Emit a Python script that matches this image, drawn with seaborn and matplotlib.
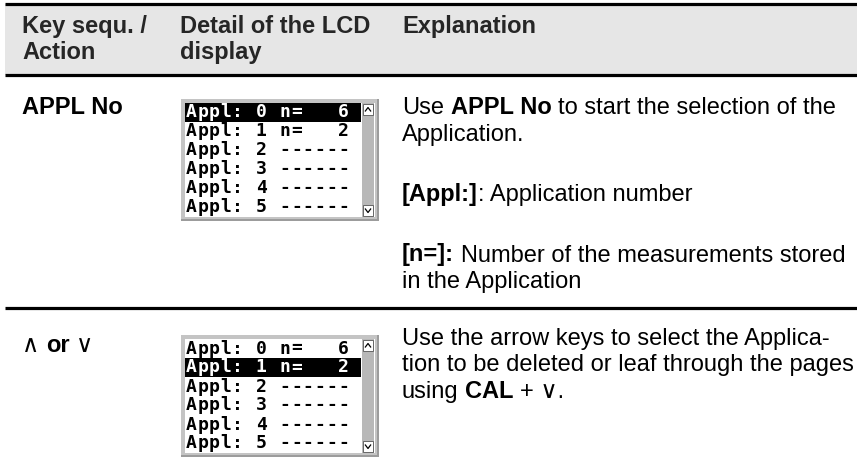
import numpy as np
import matplotlib
matplotlib.use("Agg")
import matplotlib.pyplot as plt
from matplotlib.colors import ListedColormap
from matplotlib.patches import Rectangle
import seaborn as sns

# --- table content ---
HEADER_LABELS = [
    ["Key sequ. /", "Action"],
    ["Detail of the LCD", "display"],
    ["Explanation"],
]

ROW_KEYS = [
    [("APPL No", "bold")],
    [("\u2227 ", "normal"), ("or", "bold"), (" \u2228", "normal")],
]

# None marks an empty line between paragraphs
ROW_EXPLANATIONS = [
    [
        [("Use ", "normal"), ("APPL No", "bold"), (" to start the selection of the", "normal")],
        [("Application.", "normal")],
        None,
        [("[Appl:]", "bold"), (": Application number", "normal")],
        None,
        [("[n=]:", "bold"), (" Number of the measurements stored", "normal")],
        [("in the Application", "normal")],
    ],
    [
        [("Use the arrow keys to select the Applica-", "normal")],
        [("tion to be deleted or leaf through the pages", "normal")],
        [("using ", "normal"), ("CAL", "bold"), (" + \u2228.", "normal")],
    ],
]

LCD_LINES = [
    "Appl: 0 n=   6 ",
    "Appl: 1 n=   2 ",
    "Appl: 2 ------ ",
    "Appl: 3 ------ ",
    "Appl: 4 ------ ",
    "Appl: 5 ------ ",
]
LCD_SELECTED_ROW = [0, 1]

# --- layout (pixels) ---
FIG_W, FIG_H = 857, 467
COL_X = [22, 180, 402]
HEADER_BASELINES = [33, 59]
KEY_BASELINES = [114, 352]
EXPL_BASELINES = [114, 345]
ROW_LCD_TOP = [99, 335]
SEPARATORS = [4, 75, 308]
LINE_PITCH = 26.5
PARA_GAP = 34
FONT_SIZE = 17
LCD_X0, LCD_W = 181, 198
LCD_ROW_H = 19
HEADER_GREY = "#e6e6e6"
TEXT_FONTS = ["Liberation Sans", "DejaVu Sans"]

sns.set_theme(style="white")
plt.rcParams["font.family"] = TEXT_FONTS


def fig_rect(x, y, w, h):
    return [x / FIG_W, 1 - (y + h) / FIG_H, w / FIG_W, h / FIG_H]


def text_width(ax, renderer, text, weight):
    t = ax.text(0, 0, text, fontsize=FONT_SIZE, fontweight=weight)
    w = t.get_window_extent(renderer).width
    t.remove()
    return w


def draw_segments(ax, renderer, x, y, segments):
    space = text_width(ax, renderer, "a a", "normal") - text_width(ax, renderer, "aa", "normal")
    for text, weight in segments:
        core = text.strip(" ")
        lead = len(text) - len(text.lstrip(" "))
        trail = len(text) - len(text.rstrip(" "))
        x += lead * space
        t = ax.text(x, y, core, fontsize=FONT_SIZE, fontweight=weight,
                    ha="left", va="baseline", color="black")
        x += t.get_window_extent(renderer).width + trail * space


def draw_lcd(fig, ax, top, selected):
    height = LCD_ROW_H * len(LCD_LINES) + 8
    # outer frame with shadow
    ax.add_patch(Rectangle((LCD_X0, top), LCD_W, height, facecolor="#9c9c9c", lw=0))
    ax.add_patch(Rectangle((LCD_X0, top), LCD_W - 2, height - 2, facecolor="#c4c4c4", lw=0))
    inner_x0, inner_x1 = LCD_X0 + 4, LCD_X0 + LCD_W - 18
    ax.add_patch(Rectangle((inner_x0, top + 4), LCD_W - 8, height - 8, facecolor="white", lw=0))
    # scrollbar
    sb_x = inner_x1 + 1
    ax.add_patch(Rectangle((sb_x, top + 4), 12, height - 8, facecolor="#b8b8b8", lw=0))
    for by, sign in [(top + 5, 1), (top + height - 16, -1)]:
        ax.add_patch(Rectangle((sb_x + 1, by), 10, 11, facecolor="white",
                               edgecolor="#555555", lw=0.6))
        cy = by + 5.5
        ax.plot([sb_x + 3, sb_x + 6, sb_x + 9], [cy + 2 * sign, cy - 2 * sign, cy + 2 * sign],
                color="black", lw=0.9, solid_capstyle="butt")

    chars = np.array([list(line) for line in LCD_LINES])
    mask = np.zeros(chars.shape)
    mask[selected, :] = 1
    lcd_ax = fig.add_axes(fig_rect(inner_x0, top + 4, inner_x1 - inner_x0,
                                   LCD_ROW_H * len(LCD_LINES)))
    sns.heatmap(mask, annot=chars, fmt="", cmap=ListedColormap(["white", "black"]),
                vmin=0, vmax=1, cbar=False, xticklabels=False, yticklabels=False,
                linewidths=0, ax=lcd_ax,
                annot_kws={"family": "DejaVu Sans Mono", "weight": "bold", "size": 13})
    for txt, val in zip(lcd_ax.texts, mask.flat):
        txt.set_color("white" if val else "black")
    lcd_ax.axis("off")


fig = plt.figure(figsize=(FIG_W / 100, FIG_H / 100), dpi=100)
ax = fig.add_axes([0, 0, 1, 1])
ax.set_xlim(0, FIG_W)
ax.set_ylim(FIG_H, 0)
ax.axis("off")
renderer = fig.canvas.get_renderer()

# header band and rules
ax.add_patch(Rectangle((5, SEPARATORS[0]), FIG_W - 5, SEPARATORS[1] - SEPARATORS[0],
                       facecolor=HEADER_GREY, lw=0))
for sy in SEPARATORS:
    ax.plot([5, FIG_W], [sy, sy], color="black", lw=2.3, solid_capstyle="butt")

for col, lines in enumerate(HEADER_LABELS):
    for i, label in enumerate(lines):
        ax.text(COL_X[col], HEADER_BASELINES[i], label, fontsize=FONT_SIZE,
                fontweight="bold", va="baseline", ha="left")

for r in range(len(ROW_KEYS)):
    draw_segments(ax, renderer, COL_X[0], KEY_BASELINES[r], ROW_KEYS[r])
    draw_lcd(fig, ax, ROW_LCD_TOP[r], LCD_SELECTED_ROW[r])
    y = EXPL_BASELINES[r]
    for line in ROW_EXPLANATIONS[r]:
        if line is None:
            y += PARA_GAP
            continue
        draw_segments(ax, renderer, COL_X[2], y, line)
        y += LINE_PITCH

fig.savefig("out.png", dpi=100)
